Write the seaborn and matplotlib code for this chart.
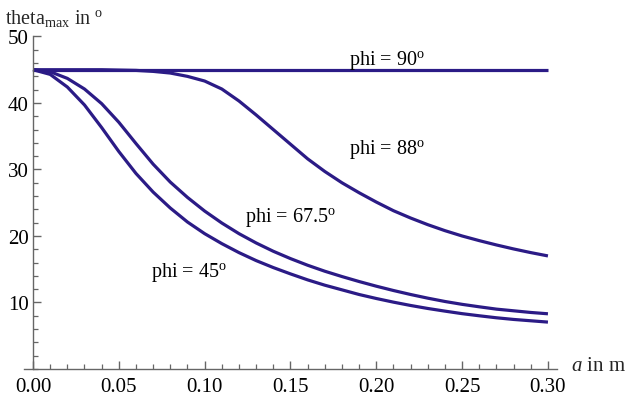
import numpy as np
import pandas as pd
import matplotlib
matplotlib.use('Agg')
import matplotlib.pyplot as plt
from matplotlib.ticker import MultipleLocator, FixedLocator
import seaborn as sns

# a in m, read every 0.01 off the reference
a_vals = [0.00, 0.01, 0.02, 0.03, 0.04, 0.05, 0.06, 0.07, 0.08, 0.09,
          0.10, 0.11, 0.12, 0.13, 0.14, 0.15, 0.16, 0.17, 0.18, 0.19,
          0.20, 0.21, 0.22, 0.23, 0.24, 0.25, 0.26, 0.27, 0.28, 0.29, 0.30]

# theta_max in degrees for each phi
theta_90 = [45.0] * 31
theta_88 = [45.0, 45.0, 45.0, 45.0, 45.0, 44.95, 44.9, 44.75, 44.5, 44.0,
            43.3, 42.1, 40.3, 38.2, 36.0, 33.8, 31.6, 29.7, 28.0, 26.5,
            25.1, 23.8, 22.7, 21.7, 20.8, 20.0, 19.3, 18.65, 18.05, 17.5, 17.0]
theta_675 = [45.0, 44.7, 43.7, 42.1, 39.9, 37.1, 33.9, 30.8, 28.1, 25.8,
             23.75, 21.95, 20.35, 18.95, 17.7, 16.6, 15.6, 14.7, 13.9, 13.15,
             12.45, 11.8, 11.2, 10.65, 10.15, 9.72, 9.35, 9.0, 8.75, 8.5, 8.3]
theta_45 = [45.0, 44.3, 42.4, 39.7, 36.3, 32.7, 29.4, 26.6, 24.2, 22.1,
            20.35, 18.85, 17.5, 16.3, 15.25, 14.3, 13.4, 12.6, 11.9, 11.2,
            10.6, 10.05, 9.55, 9.1, 8.7, 8.32, 8.0, 7.7, 7.45, 7.25, 7.05]

labels = ['phi = 90$^{\\mathrm{o}}$', 'phi = 88$^{\\mathrm{o}}$',
          'phi = 67.5$^{\\mathrm{o}}$', 'phi = 45$^{\\mathrm{o}}$']
label_a = [0.206, 0.206, 0.150, 0.091]
label_theta = [46.6, 33.1, 23.0, 14.6]

x_ticks = [0.00, 0.05, 0.10, 0.15, 0.20, 0.25, 0.30]
y_ticks = [10, 20, 30, 40, 50]

sns.set_style('white')
plt.rcParams['font.family'] = ['Liberation Serif', 'DejaVu Serif']
plt.rcParams['mathtext.fontset'] = 'custom'
plt.rcParams['mathtext.rm'] = 'Liberation Serif'
plt.rcParams['mathtext.it'] = 'Liberation Serif:italic'

line_color = '#2b1b86'
axis_color = '#666666'

fig = plt.figure(figsize=(6.26, 4.06), dpi=100)
ax = fig.add_axes([0.039, 0.0887, 0.8514, 0.819])

for ys in [theta_90, theta_88, theta_675, theta_45]:
    df = pd.DataFrame({'a': a_vals, 'theta': ys})
    sns.lineplot(data=df, x='a', y='theta', ax=ax, color=line_color, lw=2.3,
                 sort=False, estimator=None, solid_joinstyle='round',
                 solid_capstyle='butt')

for txt, xa, yt in zip(labels, label_a, label_theta):
    ax.text(xa, yt, txt, ha='center', va='center', fontsize=14.5, color='black')

ax.set_xlim(-0.005, 0.3055)
ax.set_ylim(0, 50)
ax.set_xlabel('')
ax.set_ylabel('')

for s in ['top', 'right']:
    ax.spines[s].set_visible(False)
ax.spines['left'].set_position(('data', 0))
ax.spines['left'].set_bounds(0, 50)
for s in ['left', 'bottom']:
    ax.spines[s].set_color(axis_color)
    ax.spines[s].set_linewidth(1.0)

ax.xaxis.set_major_locator(FixedLocator(x_ticks))
ax.xaxis.set_minor_locator(MultipleLocator(0.01))
ax.yaxis.set_major_locator(FixedLocator(y_ticks))
ax.yaxis.set_minor_locator(MultipleLocator(2))
ax.set_xticklabels(['%.2f' % t for t in x_ticks])
ax.set_yticklabels([str(t) for t in y_ticks])
ax.tick_params(which='major', direction='in', length=6, width=1.0,
               color=axis_color, labelsize=15, labelcolor='black')
ax.tick_params(which='minor', direction='in', length=3.5, width=0.9,
               color=axis_color)
ax.tick_params(axis='x', which='major', pad=6)
ax.tick_params(axis='y', which='major', pad=3)
ax.tick_params(bottom=True, left=True, which='both')

fig.text(0.008, 0.955, 'theta$_{\\mathrm{max}}$ in $^{\\mathrm{o}}$',
         fontsize=14.5, ha='left', va='center')
fig.text(0.912, 0.098, '$a$ in m', fontsize=15, ha='left', va='center')

fig.savefig('out.png', dpi=100)
